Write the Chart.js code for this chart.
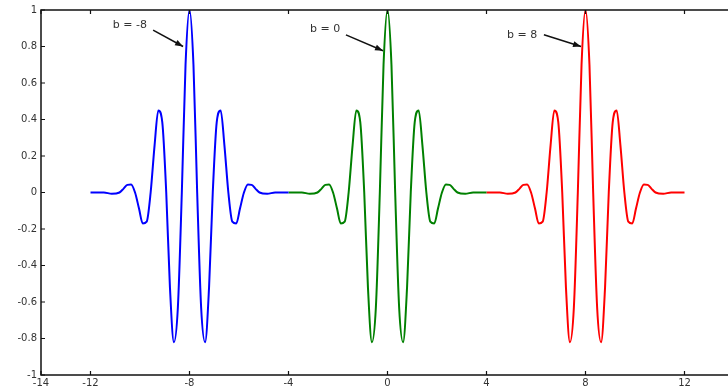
<!DOCTYPE html>
<html>
<head>
<meta charset="utf-8">
<script src="https://cdn.jsdelivr.net/npm/chart.js@4.4.1/dist/chart.umd.min.js"></script>
<style>
  html, body { margin: 0; padding: 0; background: #fff; overflow: hidden; }
  #wrap { width: 740px; height: 389px; }
</style>
</head>
<body>
<div id="wrap"><canvas id="c" width="740" height="389"></canvas></div>
<script>
// ---- data ----
const xTickValues = [-14, -12, -8, -4, 0, 4, 8, 12];
const yTickValues = [-1, -0.8, -0.6, -0.4, -0.2, 0, 0.2, 0.4, 0.6, 0.8, 1];

// wave shape (offset from its centre b, value)
const waveOffsets = [-4, -3.46, -3.14, -2.83, -2.67, -2.51, -2.36, -2.2, -2.04, -1.89, -1.73, -1.57,
  -1.41, -1.26, -1.1, -0.94, -0.79, -0.63, -0.47, -0.31, -0.16, 0,
  0.16, 0.31, 0.47, 0.63, 0.79, 0.94, 1.1, 1.26, 1.41, 1.57, 1.73, 1.89, 2.04, 2.2,
  2.36, 2.51, 2.67, 2.83, 3.14, 3.46, 4];
const waveValues = [0, 0, -0.007, 0, 0.02, 0.042, 0.044, 0, -0.088, -0.17, -0.16, 0,
  0.26, 0.45, 0.386, 0, -0.52, -0.82, -0.63, 0, 0.70, 1,
  0.70, 0, -0.63, -0.82, -0.52, 0, 0.386, 0.45, 0.26, 0, -0.16, -0.17, -0.088, 0,
  0.044, 0.042, 0.02, 0, -0.007, 0, 0];

const centers = [-8, 0, 8];
const seriesColors = ['#0000ff', '#008000', '#ff0000'];

const annoLabels = ['b = -8', 'b = 0', 'b = 8'];
const annoTextX = [-11.1, -3.13, 4.83];
const annoTextY = [0.918, 0.896, 0.864];
const annoFromX = [-9.47, -1.68, 6.32];
const annoFromY = [0.89, 0.864, 0.864];
const annoToX = [-8.26, -0.18, 7.82];
const annoToY = [0.80, 0.777, 0.80];

const FONT = 'DejaVu Sans, sans-serif';

const datasets = centers.map((c, i) => ({
  label: 'b = ' + c,
  data: waveOffsets.map((t, k) => ({ x: c + t, y: waveValues[k] })),
  borderColor: seriesColors[i],
  borderWidth: 2,
  pointRadius: 0,
  fill: false,
  cubicInterpolationMode: 'monotone'
}));

const boxPlugin = {
  id: 'box',
  afterDraw(chart) {
    const ctx = chart.ctx;
    const a = chart.chartArea;
    const xs = chart.scales.x, ys = chart.scales.y;
    ctx.save();
    ctx.strokeStyle = '#111';
    ctx.lineWidth = 1.5;
    ctx.strokeRect(a.left, a.top, a.right - a.left, a.bottom - a.top);
    ctx.lineWidth = 1.2;
    ctx.beginPath();
    xTickValues.forEach(v => {
      const px = xs.getPixelForValue(v);
      ctx.moveTo(px, a.bottom); ctx.lineTo(px, a.bottom - 4);
      ctx.moveTo(px, a.top); ctx.lineTo(px, a.top + 4);
    });
    yTickValues.forEach(v => {
      const py = ys.getPixelForValue(v);
      ctx.moveTo(a.left, py); ctx.lineTo(a.left + 4, py);
      ctx.moveTo(a.right, py); ctx.lineTo(a.right - 4, py);
    });
    ctx.stroke();

    // annotations
    ctx.font = '11px ' + FONT;
    ctx.textBaseline = 'middle';
    ctx.textAlign = 'left';
    annoLabels.forEach((lab, i) => {
      ctx.fillStyle = '#333';
      ctx.fillText(lab, xs.getPixelForValue(annoTextX[i]), ys.getPixelForValue(annoTextY[i]));
      const x1 = xs.getPixelForValue(annoFromX[i]), y1 = ys.getPixelForValue(annoFromY[i]);
      const x2 = xs.getPixelForValue(annoToX[i]), y2 = ys.getPixelForValue(annoToY[i]);
      ctx.strokeStyle = '#111';
      ctx.lineWidth = 1.5;
      ctx.beginPath(); ctx.moveTo(x1, y1); ctx.lineTo(x2, y2); ctx.stroke();
      const ang = Math.atan2(y2 - y1, x2 - x1);
      const L = 8, W = 3;
      ctx.beginPath();
      ctx.moveTo(x2, y2);
      ctx.lineTo(x2 - L * Math.cos(ang) + W * Math.sin(ang), y2 - L * Math.sin(ang) - W * Math.cos(ang));
      ctx.lineTo(x2 - L * Math.cos(ang) - W * Math.sin(ang), y2 - L * Math.sin(ang) + W * Math.cos(ang));
      ctx.closePath();
      ctx.fillStyle = '#111';
      ctx.fill();
    });
    ctx.restore();
  }
};

new Chart(document.getElementById('c'), {
  type: 'line',
  data: { datasets },
  options: {
    responsive: false,
    animation: false,
    devicePixelRatio: 1,
    layout: { padding: { top: 8, right: 6, left: 0, bottom: 0 } },
    plugins: { legend: { display: false }, tooltip: { enabled: false } },
    scales: {
      x: {
        type: 'linear', min: -14, max: 14,
        grid: { display: false, drawTicks: false },
        border: { display: false },
        afterBuildTicks: s => { s.ticks = xTickValues.map(v => ({ value: v })); },
        afterFit: s => { s.height = 14; },
        ticks: {
          autoSkip: false, maxRotation: 0, padding: 3,
          color: '#333', font: { family: FONT, size: 10, lineHeight: 1 },
          callback: v => String(v)
        }
      },
      y: {
        type: 'linear', min: -1, max: 1,
        grid: { display: false, drawTicks: false },
        border: { display: false },
        afterBuildTicks: s => { s.ticks = yTickValues.map(v => ({ value: v })); },
        afterFit: s => { s.width = 41; },
        ticks: {
          autoSkip: false, padding: 4,
          color: '#333', font: { family: FONT, size: 10 },
          callback: v => String(Math.round(v * 10) / 10)
        }
      }
    }
  },
  plugins: [boxPlugin]
});
</script>
</body>
</html>
